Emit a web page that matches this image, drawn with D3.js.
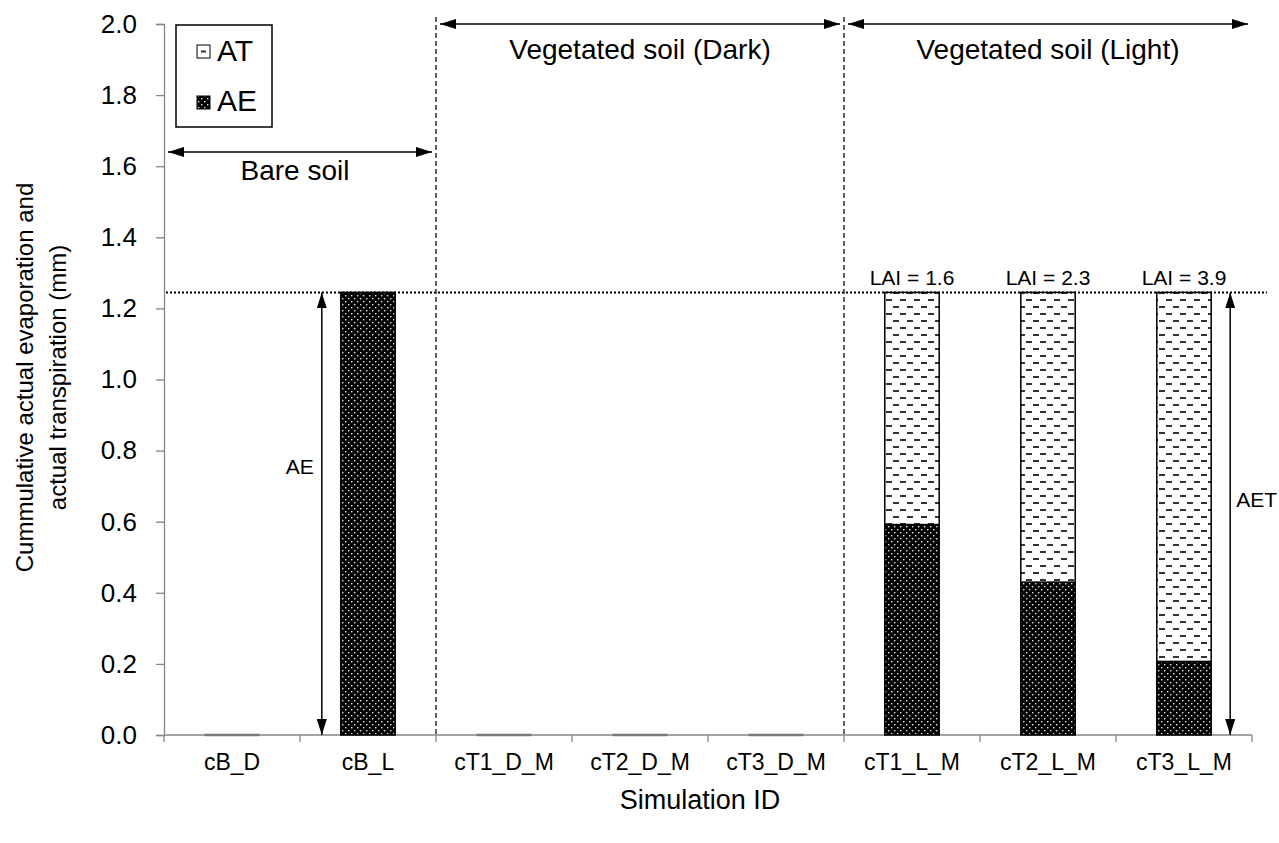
<!DOCTYPE html>
<html>
<head>
<meta charset="utf-8">
<script src="https://cdn.jsdelivr.net/npm/d3@7"></script>
<style>
  body { margin: 0; background: #fff; }
  svg { font-family: "Liberation Sans", Arial, sans-serif; }
</style>
</head>
<body>
<div id="chart"></div>
<script>
  // Data
  const categories = ["cB_D", "cB_L", "cT1_D_M", "cT2_D_M", "cT3_D_M", "cT1_L_M", "cT2_L_M", "cT3_L_M"];
  const aeValues = [0, 1.245, 0, 0, 0, 0.592, 0.43, 0.207];
  const atValues = [0, 0, 0, 0, 0, 0.653, 0.815, 1.038];
  const laiLabels = ["", "", "", "", "", "LAI = 1.6", "LAI = 2.3", "LAI = 3.9"];
  const yTicks = [0, 0.2, 0.4, 0.6, 0.8, 1.0, 1.2, 1.4, 1.6, 1.8, 2.0];
  const potentialTotal = 1.245;
  // groups: label, first category index, last category index (exclusive), arrow level (mm)
  const groupLabels = ["Bare soil", "Vegetated soil (Dark)", "Vegetated soil (Light)"];
  const groupStart = [0, 2, 5];
  const groupEnd = [2, 5, 8];
  const groupLevel = [1.64, 2.0, 2.0];

  // Set the dimensions and margins of the graph
  const margin = { top: 24, right: 27, bottom: 108, left: 164 };
  const width = 1279 - margin.left - margin.right;
  const height = 843 - margin.top - margin.bottom;

  const svgRoot = d3.select("#chart")
    .append("svg")
    .attr("width", 1279)
    .attr("height", 843);

  // Patterns for AE (dots) and AT (dashes)
  const defs = svgRoot.append("defs");
  const dots = defs.append("pattern")
    .attr("id", "dots")
    .attr("patternUnits", "userSpaceOnUse")
    .attr("width", 6).attr("height", 6);
  dots.append("rect").attr("width", 6).attr("height", 6).attr("fill", "#000");
  dots.append("rect").attr("x", 1).attr("y", 1).attr("width", 1.4).attr("height", 1.4).attr("fill", "#e6e6e6");
  dots.append("rect").attr("x", 4).attr("y", 4).attr("width", 1.4).attr("height", 1.4).attr("fill", "#e6e6e6");

  const dashes = defs.append("pattern")
    .attr("id", "dashes")
    .attr("patternUnits", "userSpaceOnUse")
    .attr("width", 14).attr("height", 14);
  dashes.append("rect").attr("width", 14).attr("height", 14).attr("fill", "#fff");
  dashes.append("rect").attr("x", 1).attr("y", 2).attr("width", 6).attr("height", 2).attr("fill", "#333");
  dashes.append("rect").attr("x", 8).attr("y", 9).attr("width", 6).attr("height", 2).attr("fill", "#333");

  // Arrow head marker
  defs.append("marker")
    .attr("id", "head")
    .attr("markerUnits", "userSpaceOnUse")
    .attr("viewBox", "0 0 16 10")
    .attr("refX", 16).attr("refY", 5)
    .attr("markerWidth", 16).attr("markerHeight", 10)
    .attr("orient", "auto-start-reverse")
    .append("path")
    .attr("d", "M0,0 L16,5 L0,10 Z")
    .attr("fill", "#000");

  const svg = svgRoot.append("g")
    .attr("transform", `translate(${margin.left},${margin.top})`);

  // X scale
  const x = d3.scaleBand()
    .domain(categories)
    .range([0, width])
    .paddingInner(0.6)
    .paddingOuter(0.3);
  const step = x.step();
  const edge = (i) => i * step; // category boundaries

  // Y scale
  const y = d3.scaleLinear()
    .domain([0, 2])
    .range([height, 0]);

  // Y axis
  const yAxis = svg.append("g")
    .call(d3.axisLeft(y).tickValues(yTicks).tickFormat(d3.format(".1f")).tickSize(8).tickPadding(19));
  yAxis.selectAll("path, line").attr("stroke", "#868686").attr("stroke-width", 1.3);
  yAxis.selectAll("text").attr("font-size", 26).attr("fill", "#000").attr("font-family", "Liberation Sans, Arial, sans-serif");

  // X axis: line, boundary ticks and labels
  svg.append("line")
    .attr("x1", 0).attr("x2", width)
    .attr("y1", height).attr("y2", height)
    .attr("stroke", "#868686").attr("stroke-width", 1.3);
  svg.selectAll(".xtick")
    .data(d3.range(categories.length + 1))
    .enter().append("line")
    .attr("class", "xtick")
    .attr("x1", (d) => edge(d)).attr("x2", (d) => edge(d))
    .attr("y1", height).attr("y2", height + 7)
    .attr("stroke", "#868686").attr("stroke-width", 1.3);
  svg.selectAll(".xlabel")
    .data(categories)
    .enter().append("text")
    .attr("class", "xlabel")
    .attr("x", (d) => x(d) + x.bandwidth() / 2)
    .attr("y", height + 35)
    .attr("text-anchor", "middle")
    .attr("font-size", 23)
    .text((d) => d);

  // Bars
  const rows = categories.map((c, i) => ({ c: c, ae: aeValues[i], at: atValues[i], lai: laiLabels[i] }));

  // zero-height bars show as a grey line on the axis
  svg.selectAll(".zero")
    .data(rows.filter((d) => d.ae + d.at === 0))
    .enter().append("line")
    .attr("class", "zero")
    .attr("x1", (d) => x(d.c)).attr("x2", (d) => x(d.c) + x.bandwidth())
    .attr("y1", y(0)).attr("y2", y(0))
    .attr("stroke", "#7a7a7a").attr("stroke-width", 2.5);

  const nonZero = rows.filter((d) => d.ae + d.at > 0);
  svg.selectAll(".ae")
    .data(nonZero.filter((d) => d.ae > 0))
    .enter().append("rect")
    .attr("class", "ae")
    .attr("x", (d) => x(d.c))
    .attr("y", (d) => y(d.ae))
    .attr("width", x.bandwidth())
    .attr("height", (d) => y(0) - y(d.ae))
    .attr("fill", "url(#dots)")
    .attr("stroke", "#000").attr("stroke-width", 1.5);
  svg.selectAll(".at")
    .data(nonZero.filter((d) => d.at > 0))
    .enter().append("rect")
    .attr("class", "at")
    .attr("x", (d) => x(d.c))
    .attr("y", (d) => y(d.ae + d.at))
    .attr("width", x.bandwidth())
    .attr("height", (d) => y(d.ae) - y(d.ae + d.at))
    .attr("fill", "url(#dashes)")
    .attr("stroke", "#000").attr("stroke-width", 1.5);

  // LAI labels
  svg.selectAll(".lai")
    .data(rows.filter((d) => d.lai))
    .enter().append("text")
    .attr("class", "lai")
    .attr("x", (d) => x(d.c) + x.bandwidth() / 2)
    .attr("y", (d) => y(d.ae + d.at) - 7)
    .attr("text-anchor", "middle")
    .attr("font-size", 21)
    .text((d) => d.lai);

  // Dotted line for the total
  svg.append("line")
    .attr("x1", 2).attr("x2", width + 15)
    .attr("y1", y(potentialTotal)).attr("y2", y(potentialTotal))
    .attr("stroke", "#000").attr("stroke-width", 2)
    .attr("stroke-dasharray", "2,2");

  // Dashed separators between groups
  svg.selectAll(".sep")
    .data(groupStart.slice(1))
    .enter().append("line")
    .attr("class", "sep")
    .attr("x1", (d) => edge(d)).attr("x2", (d) => edge(d))
    .attr("y1", y(2) - 7).attr("y2", y(0))
    .attr("stroke", "#333").attr("stroke-width", 1.5)
    .attr("stroke-dasharray", "5,3");

  // Group arrows and labels
  groupLabels.forEach(function (label, i) {
    const x1 = edge(groupStart[i]) + 4;
    const x2 = edge(groupEnd[i]) - 4;
    const ya = y(groupLevel[i]);
    svg.append("line")
      .attr("x1", x1).attr("x2", x2)
      .attr("y1", ya).attr("y2", ya)
      .attr("stroke", "#000").attr("stroke-width", 1.5)
      .attr("marker-start", "url(#head)")
      .attr("marker-end", "url(#head)");
    svg.append("text")
      .attr("x", (x1 + x2) / 2 - (i === 0 ? 5 : 0))
      .attr("y", ya + (i === 0 ? 28 : 35))
      .attr("text-anchor", "middle")
      .attr("font-size", 28)
      .text(label);
  });

  // AE arrow beside the bare-soil bar
  const aeX = x("cB_L") - 19;
  svg.append("line")
    .attr("x1", aeX).attr("x2", aeX)
    .attr("y1", y(0)).attr("y2", y(potentialTotal))
    .attr("stroke", "#000").attr("stroke-width", 1.5)
    .attr("marker-start", "url(#head)")
    .attr("marker-end", "url(#head)");
  svg.append("text")
    .attr("x", aeX - 8).attr("y", y(0.735))
    .attr("text-anchor", "end")
    .attr("font-size", 21)
    .text("AE");

  // AET arrow beside the last bar
  const aetX = x("cT3_L_M") + x.bandwidth() + 19;
  svg.append("line")
    .attr("x1", aetX).attr("x2", aetX)
    .attr("y1", y(0)).attr("y2", y(potentialTotal))
    .attr("stroke", "#000").attr("stroke-width", 1.5)
    .attr("marker-start", "url(#head)")
    .attr("marker-end", "url(#head)");
  svg.append("text")
    .attr("x", aetX + 6).attr("y", y(0.64))
    .attr("font-size", 21)
    .text("AET");

  // Legend
  const legend = svg.append("g").attr("transform", "translate(12,1)");
  legend.append("rect")
    .attr("width", 96).attr("height", 102)
    .attr("fill", "#fff").attr("stroke", "#000").attr("stroke-width", 1.5);
  const legendItems = ["AT", "AE"];
  legendItems.forEach(function (name, i) {
    legend.append("rect")
      .attr("x", 21).attr("y", 20 + i * 51)
      .attr("width", 13).attr("height", 13)
      .attr("fill", name === "AE" ? "url(#dots)" : "#fff")
      .attr("stroke", "#000").attr("stroke-width", 1);
    if (name === "AT") {
      legend.append("rect")
        .attr("x", 25).attr("y", 25.5)
        .attr("width", 5).attr("height", 2)
        .attr("fill", "#333");
    }
    legend.append("text")
      .attr("x", 41).attr("y", 36 + i * 50)
      .attr("font-size", 30)
      .text(name);
  });

  // Axis titles
  svg.append("text")
    .attr("x", width / 2 - 8)
    .attr("y", height + 74)
    .attr("text-anchor", "middle")
    .attr("font-size", 27)
    .text("Simulation ID");

  const yTitle = svg.append("text")
    .attr("transform", `translate(${-margin.left},${height / 2 - 2}) rotate(-90)`)
    .attr("text-anchor", "middle")
    .attr("font-size", 24);
  yTitle.append("tspan").attr("x", 0).attr("y", 33).text("Cummulative actual evaporation and");
  yTitle.append("tspan").attr("x", 0).attr("y", 66).text("actual transpiration (mm)");
</script>
</body>
</html>
